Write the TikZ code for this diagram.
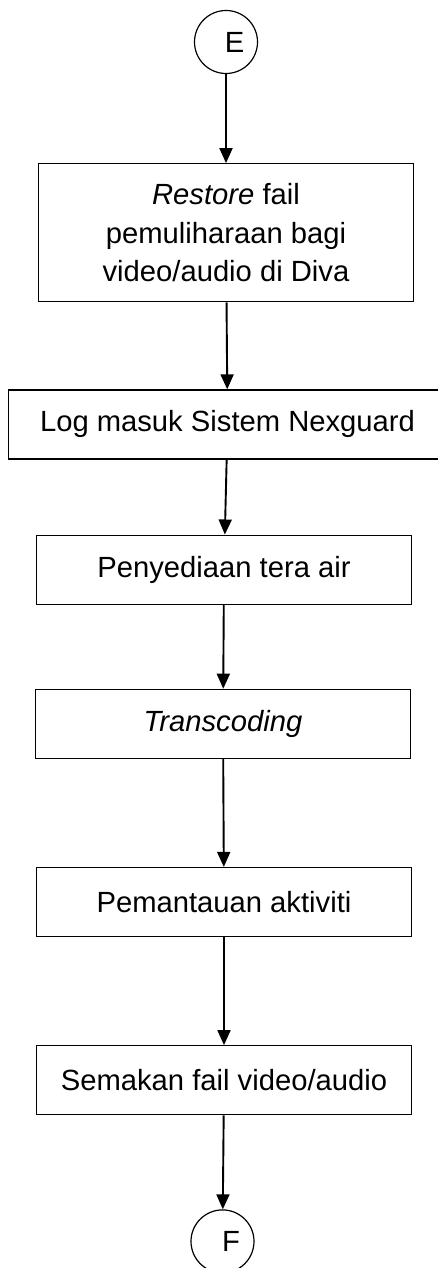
\documentclass[tikz,border=0pt]{standalone}
\usepackage{fontspec}
\setmainfont{Liberation Sans}
\usetikzlibrary{shapes, arrows.meta, positioning}

\begin{document}
\begin{tikzpicture}[x=1pt, y=1pt,
        process/.style={rectangle, draw, line width=1.2pt, minimum width=375pt, minimum height=69pt, inner sep=0pt, align=center, font=\fontsize{29.2}{38.5}\selectfont},
        connector/.style={circle, draw, line width=1.2pt, minimum size=63pt, inner sep=0pt, font=\fontsize{29.2}{34}\selectfont},
        flow/.style={-{Triangle[length=15pt, width=13pt]}, line width=1.9pt}]

        \useasboundingbox (0,0) rectangle (437,-1268);

        % Nodes placed one under the other, gaps follow the drawing
        \node[connector] (startE) at (226,-42) {\hspace{17pt}E};

        \node[process, minimum height=138pt, below=89pt of startE] (restore)
        {\textit{Restore} fail \\ pemuliharaan bagi \\ video/audio di Diva};

        \node[process, minimum width=438pt, below=87pt of restore, xshift=1.5pt] (login)
        {Log masuk Sistem Nexguard};

        \node[process, below=75pt of login, xshift=-3.5pt] (watermark)
        {Penyediaan tera air};

        \node[process, below=84pt of watermark, xshift=-1pt] (transcode)
        {\textit{Transcoding}};

        \node[process, below=108pt of transcode, xshift=1pt] (monitor)
        {Pemantauan aktiviti};

        \node[process, below=108pt of monitor] (verify)
        {Semakan fail video/audio};

        \node[connector, below=94pt of verify, xshift=-1.5pt] (endF) {\hspace{17pt}F};

        % Arrows
        \draw[flow] (startE) -- (restore);
        \draw[flow] (restore) -- (login);
        \draw[flow] (login) -- (watermark);
        \draw[flow] (watermark) -- (transcode);
        \draw[flow] (transcode) -- (monitor);
        \draw[flow] (monitor) -- (verify);
        \draw[flow] (verify) -- (endF);

\end{tikzpicture}
\end{document}
